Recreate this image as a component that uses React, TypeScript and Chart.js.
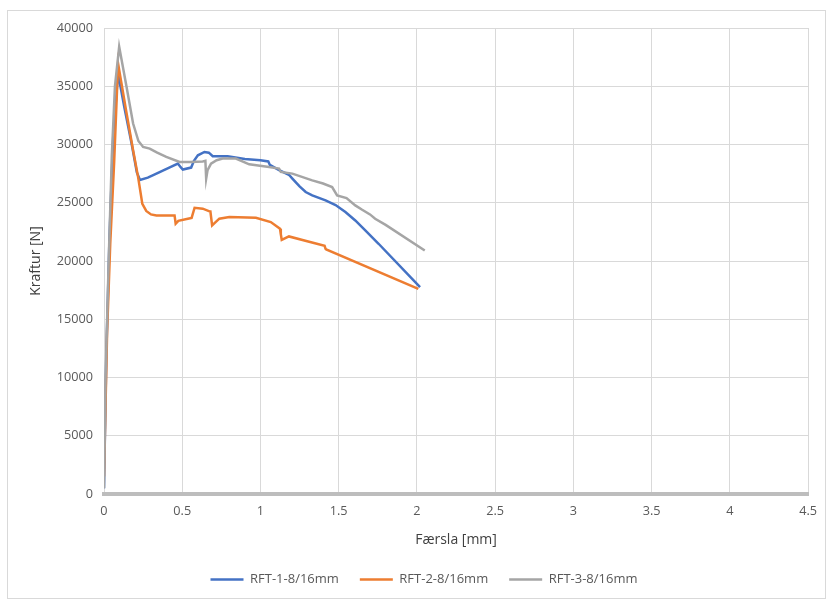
import React, { useEffect, useRef } from "react";
import { Chart, registerables } from "chart.js";

Chart.register(...registerables);

const seriesNames = ["RFT-1-8/16mm", "RFT-2-8/16mm", "RFT-3-8/16mm"];
const seriesColors = ["#4472C4", "#ED7D31", "#A5A5A5"];

const rft1X = [0, 0.015, 0.035, 0.06, 0.09, 0.13, 0.176, 0.21, 0.23, 0.28, 0.335, 0.4, 0.472, 0.49, 0.504, 0.557, 0.575, 0.6, 0.642, 0.67, 0.695, 0.79, 0.9, 1.0, 1.05, 1.06, 1.119, 1.182, 1.204, 1.25, 1.289, 1.331, 1.416, 1.48, 1.543, 1.606, 1.67, 1.755, 2.02];
const rft1Y = [500, 12000, 22000, 31000, 36100, 33200, 30100, 27600, 26950, 27150, 27500, 27900, 28360, 28050, 27850, 28020, 28600, 29075, 29360, 29300, 28990, 28990, 28750, 28650, 28550, 28250, 27800, 27400, 27070, 26400, 25920, 25630, 25200, 24800, 24200, 23480, 22620, 21480, 17750];

const rft2X = [0, 0.02, 0.04, 0.065, 0.09, 0.14, 0.186, 0.218, 0.245, 0.27, 0.3, 0.335, 0.451, 0.458, 0.475, 0.536, 0.56, 0.579, 0.631, 0.674, 0.68, 0.691, 0.737, 0.801, 0.971, 1.066, 1.125, 1.13, 1.136, 1.182, 1.299, 1.41, 1.416, 1.42, 2.009];
const rft2Y = [1500, 14000, 21500, 28500, 36950, 33000, 29500, 27200, 24900, 24300, 24000, 23910, 23910, 23200, 23450, 23630, 23700, 24570, 24490, 24260, 24250, 23050, 23630, 23770, 23710, 23340, 22770, 22300, 21820, 22110, 21700, 21300, 21050, 21000, 17610];

const rft3X = [0, 0.01, 0.03, 0.05, 0.07, 0.097, 0.144, 0.186, 0.22, 0.25, 0.292, 0.34, 0.398, 0.483, 0.55, 0.631, 0.648, 0.653, 0.662, 0.684, 0.72, 0.758, 0.843, 0.928, 1.055, 1.119, 1.13, 1.204, 1.331, 1.4, 1.458, 1.49, 1.55, 1.606, 1.65, 1.7, 1.733, 1.8, 2.05];
const rft3Y = [500, 10000, 20000, 29000, 35000, 38400, 34950, 31800, 30300, 29790, 29650, 29300, 28930, 28500, 28500, 28550, 28600, 27070, 27800, 28360, 28650, 28790, 28790, 28300, 28070, 27930, 27650, 27500, 26925, 26650, 26350, 25630, 25400, 24775, 24400, 24000, 23630, 23100, 20900];

const xAxisMin = 0;
const xAxisMax = 4.5;
const xAxisStep = 0.5;
const yAxisMin = 0;
const yAxisMax = 40000;
const yAxisStep = 5000;
const xTitle = "Færsla [mm]";
const yTitle = "Kraftur [N]";

const toPoints = (xs: number[], ys: number[]) => xs.map((x, i) => ({ x, y: ys[i] }));

const legendShift = {
  id: "legendShift",
  afterLayout(chart: any) {
    const lg = chart.legend;
    if (lg) {
      lg.left += 18;
      lg.right += 18;
    }
  },
};

export default function App() {
  const canvasRef = useRef<HTMLCanvasElement | null>(null);

  useEffect(() => {
    if (!canvasRef.current) return;
    const font = "'Open Sans', 'Noto Sans', sans-serif";
    const seriesX = [rft1X, rft2X, rft3X];
    const seriesY = [rft1Y, rft2Y, rft3Y];
    const chart = new Chart(canvasRef.current, {
      type: "scatter",
      data: {
        datasets: seriesNames.map((name, i) => ({
          label: name,
          data: toPoints(seriesX[i], seriesY[i]),
          showLine: true,
          borderColor: seriesColors[i],
          backgroundColor: seriesColors[i],
          borderWidth: 2.5,
          pointRadius: 0,
          tension: 0,
          order: 3 - i,
        })),
      },
      plugins: [legendShift],
      options: {
        responsive: false,
        animation: false,
        layout: { padding: { left: 0, right: 15, top: 28, bottom: 3 } },
        plugins: {
          tooltip: { enabled: false },
          legend: {
            position: "bottom",
            labels: {
              usePointStyle: true,
              pointStyle: "line",
              pointStyleWidth: 33,
              padding: 21,
              color: "#595959",
              font: { family: font, size: 13 },
              sort: (a: any, b: any) => a.datasetIndex - b.datasetIndex,
            },
          },
        },
        scales: {
          x: {
            type: "linear",
            min: xAxisMin,
            max: xAxisMax,
            ticks: {
              stepSize: xAxisStep,
              color: "#595959",
              padding: 10,
              font: { family: font, size: 12.7 },
              callback: (v: any) => String(v),
            },
            grid: { color: "#d9d9d9", drawTicks: false, lineWidth: 1 },
            border: { display: true, color: "#bdbdbd", width: 4 },
            title: {
              display: true,
              text: xTitle,
              color: "#404040",
              font: { family: font, size: 14 },
              padding: { top: 0, bottom: 4 },
            },
            afterFit: (scale: any) => {
              scale.height = 58;
            },
          },
          y: {
            type: "linear",
            min: yAxisMin,
            max: yAxisMax,
            ticks: {
              stepSize: yAxisStep,
              color: "#595959",
              padding: 11,
              font: { family: font, size: 12.7 },
              callback: (v: any) => String(v),
            },
            grid: { color: "#d9d9d9", drawTicks: false, lineWidth: 1 },
            border: { display: false },
            title: {
              display: true,
              text: yTitle,
              color: "#404040",
              font: { family: font, size: 14 },
              padding: { top: 28, bottom: 0 },
            },
            afterFit: (scale: any) => {
              scale.width = 104;
            },
          },
        },
      } as any,
    });
    return () => chart.destroy();
  }, []);

  return (
    <div style={{ position: "absolute", left: 0, top: 0, width: 827, height: 599, background: "#fff" }}>
      <div
        style={{
          position: "absolute",
          left: 7,
          top: 10,
          width: 819,
          height: 589,
          border: "1px solid #d9d9d9",
          boxSizing: "border-box",
        }}
      />
      <canvas
        ref={canvasRef}
        width={827}
        height={599}
        style={{ position: "absolute", left: 0, top: 0, display: "block" }}
      />
    </div>
  );
}
